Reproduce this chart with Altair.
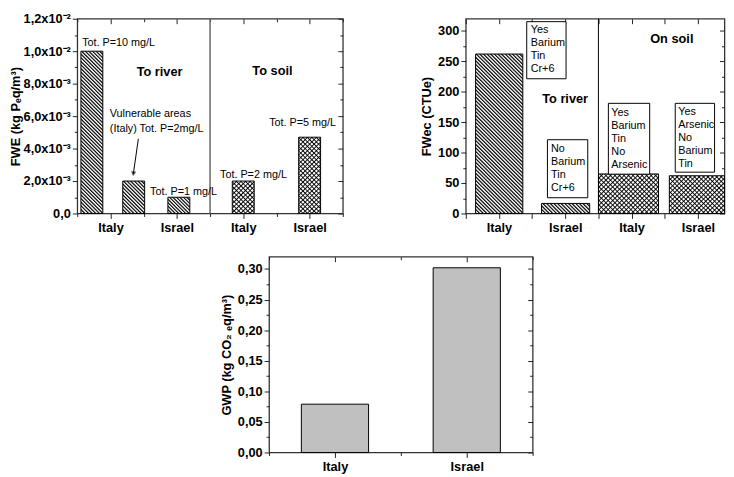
import math
import altair as alt
import pandas as pd

FONT = "Liberation Sans"

# ---------------- data ----------------
# Panel 1: FWE
fwe_pos = [0.72, 1.35, 2.03, 3.0, 4.0]
fwe_width = [0.33, 0.33, 0.33, 0.33, 0.33]
fwe_val = [0.010, 0.002, 0.001, 0.002, 0.0047]
fwe_pattern = ["diag", "diag", "diag", "cross", "cross"]
fwe_xlabels = ["Italy", "Israel", "Italy", "Israel"]
fwe_ylabels = ["0,0", "2,0x10⁻³", "4,0x10⁻³", "6,0x10⁻³", "8,0x10⁻³", "1,0x10⁻²", "1,2x10⁻²"]
fwe_note_text = ["Tot. P=10 mg/L", "Vulnerable areas", "(Italy) Tot. P=2mg/L",
                 "Tot. P=1 mg/L", "Tot. P=2 mg/L", "Tot. P=5 mg/L"]
fwe_note_x = [0.574, 0.99, 0.99, 1.596, 2.65, 3.39]
fwe_note_y = [0.01048, 0.00612, 0.00521, 0.00133, 0.00236, 0.00558]
fwe_head_text = ["To river", "To soil"]
fwe_head_x = [1.74, 3.44]
fwe_head_y = [0.00873, 0.00877]
fwe_arrow = dict(x=[1.42], y=[0.0046], x2=[1.345], y2=[0.00245])
fwe_divider = [2.5]

# Panel 2: FWEc
fwec_left = [0.648, 1.642, 2.502, 3.569]
fwec_right = [1.360, 2.368, 3.406, 4.4]
fwec_val = [262, 16.5, 65, 62]
fwec_pattern = ["diag", "diag", "cross", "cross"]
fwec_xlabels = ["Italy", "Israel", "Italy", "Israel"]
fwec_box_text = ["Yes\nBarium\nTin\nCr+6", "No\nBarium\nTin\nCr+6",
                 "Yes\nBarium\nTin\nNo\nArsenic", "Yes\nArsenic\nNo\nBarium\nTin"]
fwec_box_x1 = [1.419, 1.731, 2.650, 3.658]
fwec_box_x2 = [2.012, 2.339, 3.273, 4.251]
fwec_box_y1 = [315.2, 121.2, 181.0, 181.0]
fwec_box_y2 = [221.4, 25.9, 64.6, 67.9]
fwec_text_x = [1.479, 1.786, 2.695, 3.703]
fwec_text_y = [311.5, 115.5, 175.4, 176.5]
fwec_head_text = ["To river", "On soil"]
fwec_head_x = [1.998, 3.606]
fwec_head_y = [187.5, 286.6]
fwec_divider = [2.5]

# Panel 3: GWP
gwp_pos = [1, 2]
gwp_width = [0.51, 0.51]
gwp_val = [0.079, 0.302]
gwp_xlabels = ["Italy", "Israel"]

# ---------------- helpers ----------------
def hatch(w, h, direction, period, profile):
    """Striped gradient; profile is a list of (fraction-of-period, color)."""
    k = (w + h) / (w * w + h * h)
    a, b = k * w, k * h
    if direction == "back":
        x1, y1, x2, y2 = 0, 1, a, 1 - b
    else:
        x1, y1, x2, y2 = 0, 0, a, b
    n = max(1, int(round((w + h) / math.sqrt(2) / period)))
    stops = []
    for i in range(n):
        for f, c in profile:
            stops.append(alt.GradientStop(offset=min(1.0, (i + f) / n), color=c))
    return alt.LinearGradient(gradient="linear", stops=stops, x1=x1, y1=y1, x2=x2, y2=y2)


DIAG = [(0.0, "#1a1a1a"), (0.2, "#1a1a1a"), (0.55, "#ececec"), (0.8, "#ececec"), (1.0, "#1a1a1a")]
CROSS = [(0.0, "rgba(0,0,0,0.95)"), (0.3, "rgba(0,0,0,0)"), (0.7, "rgba(0,0,0,0)"), (1.0, "rgba(0,0,0,0.95)")]


def pattern_layers(df, i, kind, xs, ys, wpx, hpx):
    base = alt.Chart(df).transform_filter(alt.datum.i == i)
    enc = dict(x=alt.X("x0:Q", scale=xs, axis=None), x2="x1:Q",
               y=alt.Y("v:Q", scale=ys, axis=None), y2=alt.datum(0))
    layers = []
    if kind == "diag":
        layers.append(base.mark_rect(fill=hatch(wpx, hpx, "back", 2.6, DIAG)).encode(**enc))
    else:
        layers.append(base.mark_rect(fill="white").encode(**enc))
        layers.append(base.mark_rect(fill=hatch(wpx, hpx, "back", 3.2, CROSS)).encode(**enc))
        layers.append(base.mark_rect(fill=hatch(wpx, hpx, "fwd", 3.2, CROSS)).encode(**enc))
    layers.append(base.mark_rect(filled=False, stroke="black", strokeWidth=1).encode(**enc))
    return layers


def axes_layers(xs, ys, xvals, yvals, xlab_expr, ylab_expr, xmajor, ymajor, ytitle, W, H, tpad):
    d = pd.DataFrame({"a": [0]})
    ytick = f"abs(datum.value/{ymajor} - round(datum.value/{ymajor})) < 0.01 ? 5 : 3"
    xtick = f"abs(datum.value/{xmajor} - round(datum.value/{xmajor})) < 0.01 ? 5 : 3"
    main = alt.Chart(d).mark_point(opacity=0).encode(
        x=alt.X("a:Q", scale=xs, axis=alt.Axis(values=xvals, labelExpr=xlab_expr, title=None,
                                               tickSize=alt.ExprRef(expr=xtick), labelPadding=3)),
        y=alt.Y("a:Q", scale=ys, axis=alt.Axis(values=yvals, labelExpr=ylab_expr, title=ytitle,
                                               tickSize=alt.ExprRef(expr=ytick), labelPadding=2,
                                               titlePadding=tpad)))
    mirror = alt.Chart(d).mark_point(opacity=0).encode(
        x=alt.X("a:Q", scale=xs, axis=alt.Axis(values=xvals, labels=False, title=None, orient="bottom",
                                               offset=-H, tickSize=alt.ExprRef(expr=xtick))),
        y=alt.Y("a:Q", scale=ys, axis=alt.Axis(values=yvals, labels=False, title=None, orient="left",
                                               offset=-W, tickSize=alt.ExprRef(expr=ytick))))
    return [main, mirror]


def text_layer(df, xs, ys, **mk):
    return alt.Chart(df).mark_text(font=FONT, **mk).encode(
        x=alt.X("x:Q", scale=xs, axis=None), y=alt.Y("y:Q", scale=ys, axis=None), text="t:N")


# ---------------- panel 1 ----------------
W1, H1 = 270, 198
xs1 = alt.Scale(domain=[0.5, 4.5], nice=False, zero=False)
ys1 = alt.Scale(domain=[0, 0.012], nice=False)
df1 = pd.DataFrame({"i": range(5), "x0": [p - w / 2 for p, w in zip(fwe_pos, fwe_width)],
                    "x1": [p + w / 2 for p, w in zip(fwe_pos, fwe_width)], "v": fwe_val})
l1 = []
for i in range(5):
    l1 += pattern_layers(df1, i, fwe_pattern[i], xs1, ys1, fwe_width[i] * W1 / 4, fwe_val[i] * H1 / 0.012)
l1.append(alt.Chart(pd.DataFrame({"x": fwe_divider})).mark_rule(color="#666", strokeWidth=1.5)
          .encode(x=alt.X("x:Q", scale=xs1, axis=None)))
l1.append(text_layer(pd.DataFrame({"t": fwe_note_text, "x": fwe_note_x, "y": fwe_note_y}), xs1, ys1,
                     align="left", baseline="middle", fontSize=11))
l1.append(text_layer(pd.DataFrame({"t": fwe_head_text, "x": fwe_head_x, "y": fwe_head_y}), xs1, ys1,
                     align="center", baseline="middle", fontSize=13, fontWeight="bold"))
arr = pd.DataFrame(fwe_arrow)
l1.append(alt.Chart(arr).mark_rule(color="black", strokeWidth=1).encode(
    x=alt.X("x:Q", scale=xs1, axis=None), y=alt.Y("y:Q", scale=ys1, axis=None), x2="x2:Q", y2="y2:Q"))
l1.append(alt.Chart(arr).mark_point(shape="triangle-down", filled=True, color="black", size=28, angle=8).encode(
    x=alt.X("x2:Q", scale=xs1, axis=None), y=alt.Y("y2:Q", scale=ys1, axis=None)))
fwe_yexpr = ("abs(datum.value/0.002 - round(datum.value/0.002)) < 0.01 ? "
             + "[" + ",".join(f"'{s}'" for s in fwe_ylabels) + "][round(datum.value/0.002)] : ''")
fwe_xexpr = ("datum.value % 1 == 0 ? [" + ",".join(f"'{s}'" for s in fwe_xlabels) + "][datum.value - 1] : ''")
l1 += axes_layers(xs1, ys1, [0.5 + 0.5 * k for k in range(9)], [0.001 * k for k in range(13)],
                  fwe_xexpr, fwe_yexpr, 1, 0.002, "FWE (kg Pₑq/m³)", W1, H1, 1)
p1 = alt.layer(*l1).resolve_axis(x="independent", y="independent").properties(width=W1, height=H1)

# ---------------- panel 2 ----------------
W2, H2 = 263, 198
xs2 = alt.Scale(domain=[0.5, 4.4], nice=False, zero=False)
ys2 = alt.Scale(domain=[0, 320], nice=False)
df2 = pd.DataFrame({"i": range(4), "x0": fwec_left, "x1": fwec_right, "v": fwec_val})
l2 = []
for i in range(4):
    l2 += pattern_layers(df2, i, fwec_pattern[i], xs2, ys2,
                         (fwec_right[i] - fwec_left[i]) * W2 / 3.9, fwec_val[i] * H2 / 320)
l2.append(alt.Chart(pd.DataFrame({"x": fwec_divider})).mark_rule(color="black", strokeWidth=1)
          .encode(x=alt.X("x:Q", scale=xs2, axis=None)))
boxes = pd.DataFrame({"x": fwec_box_x1, "x2": fwec_box_x2, "y": fwec_box_y1, "y2": fwec_box_y2})
l2.append(alt.Chart(boxes).mark_rect(fill="white", stroke="black", strokeWidth=1).encode(
    x=alt.X("x:Q", scale=xs2, axis=None), x2="x2:Q", y=alt.Y("y:Q", scale=ys2, axis=None), y2="y2:Q"))
l2.append(text_layer(pd.DataFrame({"t": fwec_box_text, "x": fwec_text_x, "y": fwec_text_y}), xs2, ys2,
                     align="left", baseline="top", fontSize=11, lineBreak="\n", lineHeight=13.2))
l2.append(text_layer(pd.DataFrame({"t": fwec_head_text, "x": fwec_head_x, "y": fwec_head_y}), xs2, ys2,
                     align="center", baseline="middle", fontSize=13, fontWeight="bold"))
fwec_xexpr = ("datum.value % 1 == 0 ? [" + ",".join(f"'{s}'" for s in fwec_xlabels) + "][datum.value - 1] : ''")
fwec_yexpr = "datum.value % 50 == 0 ? format(datum.value, 'd') : ''"
l2 += axes_layers(xs2, ys2, [0.5 + 0.5 * k for k in range(8)], [25 * k for k in range(13)],
                  fwec_xexpr, fwec_yexpr, 0.5, 50, "FWec (CTUe)", W2, H2, 4)
p2 = alt.layer(*l2).resolve_axis(x="independent", y="independent").properties(width=W2, height=H2)

# ---------------- panel 3 ----------------
W3, H3 = 268, 199
xs3 = alt.Scale(domain=[0.5, 2.5], nice=False, zero=False)
ys3 = alt.Scale(domain=[0, 0.32], nice=False)
df3 = pd.DataFrame({"x0": [p - w / 2 for p, w in zip(gwp_pos, gwp_width)],
                    "x1": [p + w / 2 for p, w in zip(gwp_pos, gwp_width)], "v": gwp_val})
l3 = [alt.Chart(df3).mark_rect(fill="#c0c0c0", stroke="black", strokeWidth=1).encode(
    x=alt.X("x0:Q", scale=xs3, axis=None), x2="x1:Q", y=alt.Y("v:Q", scale=ys3, axis=None), y2=alt.datum(0))]
gwp_xexpr = ("datum.value % 1 == 0 ? [" + ",".join(f"'{s}'" for s in gwp_xlabels) + "][datum.value - 1] : ''")
gwp_yexpr = ("abs(datum.value/0.05 - round(datum.value/0.05)) < 0.01 ? "
             "replace(format(datum.value, '.2f'), '.', ',') : ''")
l3 += axes_layers(xs3, ys3, [0.5 + 0.5 * k for k in range(5)], [0.025 * k for k in range(13)],
                  gwp_xexpr, gwp_yexpr, 1, 0.05, "GWP (kg CO₂ ₑq/m³)", W3, H3, 4)
p3 = alt.layer(*l3).resolve_axis(x="independent", y="independent").properties(width=W3, height=H3)

top = alt.hconcat(p1, p2, spacing=76)
chart = alt.vconcat(top, p3, spacing=20, center=True).properties(
    padding={"left": 0, "top": 0, "right": 0, "bottom": 0}
).configure_view(stroke="#333", strokeWidth=1.3).configure_axis(
    domain=False, grid=False, tickColor="#222", labelFont=FONT, labelFontSize=13, labelFontWeight="bold",
    labelColor="black", titleFont=FONT, titleFontSize=13, titleFontWeight="bold", titleColor="black",
    labelFlush=False, labelOverlap=False, labelBound=False
).configure_concat(spacing=20)

chart.save("out.html", embed_options={"renderer": "svg", "actions": False})
